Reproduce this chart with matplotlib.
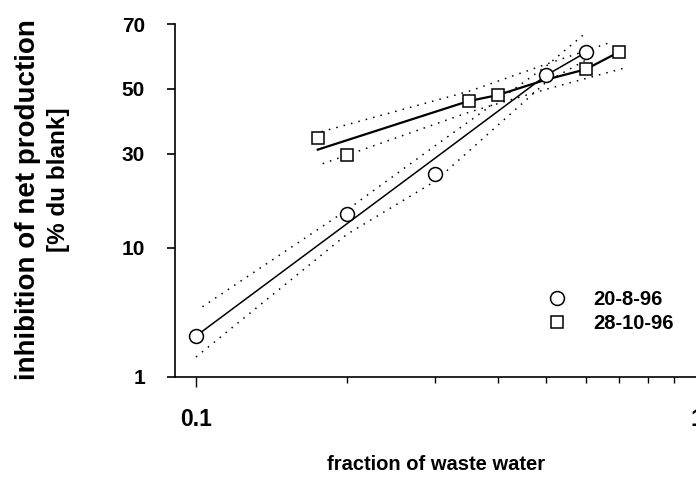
import numpy as np
import matplotlib
matplotlib.use('Agg')
import matplotlib.pyplot as plt
from matplotlib.ticker import FixedLocator, FixedFormatter, NullFormatter, NullLocator
from statistics import NormalDist

# ---------------- data ----------------
frac_a = [0.1, 0.2, 0.3, 0.5, 0.6]
inhib_a = [2.3, 15.6, 24.7, 54.4, 61.6]
frac_b = [0.175, 0.2, 0.35, 0.4, 0.6, 0.7]
inhib_b = [34.6, 29.7, 46.1, 48.0, 56.3, 61.8]

fit_a_x = [0.1, 0.2, 0.3, 0.5, 0.6]
fit_a_y = [2.3, 13.8, 28.8, 54.4, 61.6]
fit_b_x = [0.175, 0.35, 0.4, 0.5, 0.6, 0.7]
fit_b_y = [31.2, 46.1, 48.0, 53.0, 56.3, 61.8]

band_a_up_x = [0.103, 0.2, 0.3, 0.5, 0.6]
band_a_up_y = [3.93, 16.4, 32.3, 57.3, 67.5]
band_a_lo_x = [0.1, 0.2, 0.3, 0.5, 0.6]
band_a_lo_y = [1.52, 12.0, 22.8, 52.2, 59.2]
band_b_up_x = [0.178, 0.35, 0.5, 0.667]
band_b_up_y = [36.5, 49.2, 57.9, 64.5]
band_b_lo_x = [0.179, 0.35, 0.5, 0.728]
band_b_lo_y = [27.3, 42.5, 49.9, 57.0]

labels = ['20-8-96', '28-10-96']
y_ticks = [1, 10, 30, 50, 70]
x_ticks = [0.1, 1]
x_ticklabels = ['0.1', '1']
x_minor = [0.2, 0.3, 0.4, 0.5, 0.6, 0.7, 0.8, 0.9]

# ---------------- probit scale ----------------
_nd = NormalDist()
_ppf = np.vectorize(lambda q: _nd.inv_cdf(q), otypes=[float])
_cdf = np.vectorize(lambda z: _nd.cdf(z), otypes=[float])


def probit(p):
    p = np.asarray(p, dtype=float)
    q = np.clip(p / 100.0, 1e-9, 1 - 1e-9)
    return _ppf(q)


def inv_probit(z):
    z = np.asarray(z, dtype=float)
    return _cdf(z) * 100.0


plt.rcParams['font.family'] = ['Liberation Sans', 'DejaVu Sans']

fig = plt.figure(figsize=(6.96, 4.83), dpi=100)
ax = fig.add_axes([175 / 696, (483 - 377) / 483, (697 - 175) / 696, (377 - 24) / 483])

ax.set_xscale('log')
ax.set_yscale('function', functions=(probit, inv_probit))
ax.set_xlim(0.0908, 1.0)
ax.set_ylim(1, 70)

dot = (0, (1, 4))
ax.plot(band_a_up_x, band_a_up_y, color='black', lw=1.1, ls=dot)
ax.plot(band_a_lo_x, band_a_lo_y, color='black', lw=1.1, ls=dot)
ax.plot(band_b_up_x, band_b_up_y, color='black', lw=1.1, ls=dot)
ax.plot(band_b_lo_x, band_b_lo_y, color='black', lw=1.1, ls=dot)

ax.plot(fit_a_x, fit_a_y, color='black', lw=1.1, zorder=3)
ax.plot(fit_b_x, fit_b_y, color='black', lw=1.6, zorder=3)

h1, = ax.plot(frac_a, inhib_a, ls='none', marker='o', ms=10, mfc='white',
              mec='black', mew=1.1, zorder=5, label=labels[0])
h2, = ax.plot(frac_b, inhib_b, ls='none', marker='s', ms=9, mfc='white',
              mec='black', mew=1.1, zorder=5, label=labels[1])

for s in ['top', 'right']:
    ax.spines[s].set_visible(False)
for s in ['left', 'bottom']:
    ax.spines[s].set_linewidth(1.2)

ax.yaxis.set_major_locator(FixedLocator(y_ticks))
ax.yaxis.set_major_formatter(FixedFormatter([str(v) for v in y_ticks]))
ax.yaxis.set_minor_locator(NullLocator())
ax.xaxis.set_major_locator(FixedLocator(x_ticks))
ax.xaxis.set_major_formatter(FixedFormatter(x_ticklabels))
ax.xaxis.set_minor_locator(FixedLocator(x_minor))
ax.xaxis.set_minor_formatter(NullFormatter())

ax.tick_params(axis='y', which='major', length=6, width=1.2, pad=15.5, labelsize=15)
ax.tick_params(axis='x', which='major', length=7, width=1.0, pad=15, labelsize=16.5)
ax.tick_params(axis='x', which='minor', length=4, width=1.0)
for lab in ax.get_xticklabels() + ax.get_yticklabels():
    lab.set_fontweight('bold')

leg = ax.legend(handles=[h1, h2], loc='upper left',
                bbox_to_anchor=(527 / 696, (483 - 272) / 483),
                bbox_transform=fig.transFigure, frameon=False,
                handlelength=1.2, handletextpad=1.2, labelspacing=0.25,
                borderpad=0.4, prop={'size': 14.5, 'weight': 'bold'})

fig.text(28 / 696, (483 - 200) / 483, 'inhibition of net production',
         rotation=90, ha='center', va='center', fontsize=20, fontweight='bold')
fig.text(58 / 696, (483 - 179.5) / 483, '[% du blank]',
         rotation=90, ha='center', va='center', fontsize=17.5, fontweight='bold')
fig.text(436 / 696, (483 - 465) / 483, 'fraction of waste water',
         ha='center', va='center', fontsize=14.5, fontweight='bold')

fig.savefig('out.png', dpi=100)
